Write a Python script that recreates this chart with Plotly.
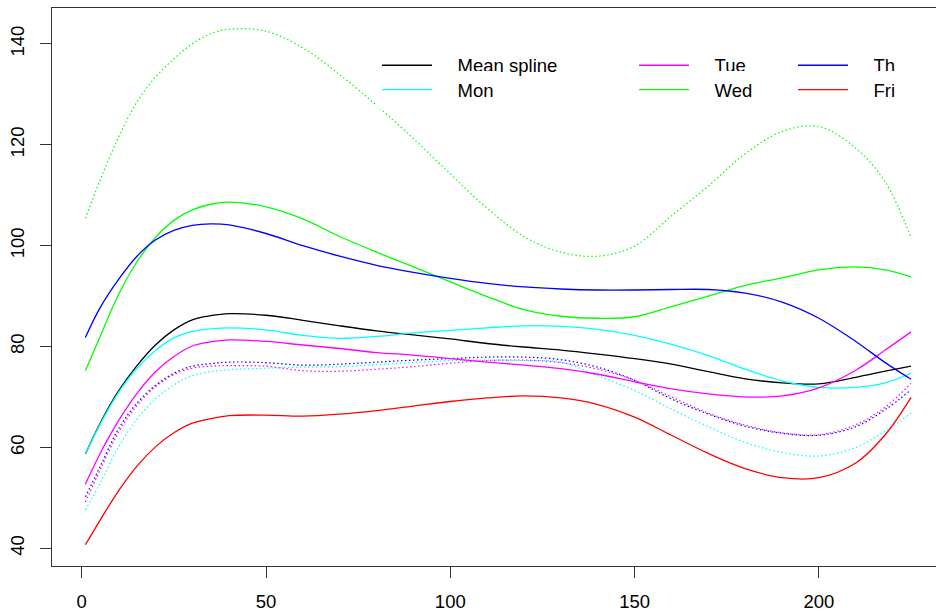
import plotly.graph_objects as go

# Evaluation points along the x axis (shared by every curve)
x = [1, 5, 10, 15, 20, 25, 30, 35, 40, 50, 60, 70, 80, 90, 100, 110, 120,
     130, 140, 150, 160, 170, 180, 190, 200, 210, 218, 225]

# Solid spline curves
mean_spline = [58.7, 64.8, 71.2, 76.2, 80.3, 83.3, 85.3, 86.1, 86.5, 86.2, 85.2, 84.1, 83.1, 82.3,
               81.5, 80.6, 79.9, 79.3, 78.5, 77.6, 76.5, 75.0, 73.6, 72.8, 72.6, 73.9, 75.1, 76.1]
mon = [58.7, 64.6, 70.9, 75.7, 79.2, 81.7, 83.0, 83.5, 83.7, 83.3, 82.2, 81.6, 82.0, 82.7,
       83.2, 83.7, 84.1, 84.0, 83.4, 82.2, 80.4, 78.2, 75.5, 73.2, 71.9, 71.9, 72.8, 74.7]
tue = [52.7, 58.8, 65.3, 70.7, 75.0, 78.0, 80.1, 80.9, 81.3, 81.0, 80.3, 79.6, 78.8, 78.3,
       77.6, 76.9, 76.3, 75.6, 74.5, 73.0, 71.6, 70.6, 70.0, 70.2, 71.8, 75.3, 79.3, 82.9]
wed = [75.2, 82.0, 90.3, 96.8, 101.6, 105.0, 107.1, 108.2, 108.6, 107.7, 105.3, 101.8, 98.7, 95.8,
       92.8, 89.9, 87.3, 86.0, 85.6, 85.9, 87.9, 90.0, 92.1, 93.6, 95.2, 95.8, 95.2, 93.8]
th = [81.8, 87.7, 93.3, 97.9, 101.1, 103.0, 104.0, 104.3, 104.1, 102.4, 100.0, 97.9, 96.1, 94.7,
      93.5, 92.5, 91.8, 91.4, 91.2, 91.2, 91.3, 91.3, 90.6, 88.8, 85.6, 81.0, 76.8, 73.5]
fri = [40.7, 45.6, 51.4, 56.3, 60.1, 62.9, 64.8, 65.7, 66.3, 66.4, 66.2, 66.6, 67.3, 68.2,
       69.1, 69.8, 70.2, 69.8, 68.5, 66.0, 62.4, 58.8, 55.8, 54.0, 54.0, 56.9, 62.5, 69.9]

# Dotted spline curves
wed_dotted = [105.4, 113.0, 121.5, 128.5, 133.4, 137.0, 140.0, 142.0, 142.9, 142.5, 139.2, 133.9,
              127.8, 121.2, 114.2, 107.4, 101.8, 98.7, 97.9, 99.9, 105.9, 111.8, 118.2, 122.6,
              123.6, 119.3, 112.6, 101.6]
th_dotted = [50.2, 56.2, 63.7, 68.8, 72.3, 74.7, 76.1, 76.6, 76.9, 76.8, 76.3, 76.5, 76.9, 77.3,
             77.6, 77.9, 77.9, 77.4, 75.9, 73.3, 69.6, 66.6, 64.2, 62.8, 62.4, 64.1, 67.5, 71.4]
tue_dotted = [49.2, 55.5, 63.0, 68.3, 72.0, 74.4, 75.7, 76.1, 76.2, 76.1, 75.2, 75.1, 75.5, 76.0,
              76.7, 77.2, 77.3, 76.8, 75.5, 73.3, 70.0, 66.8, 64.4, 62.9, 62.5, 64.5, 68.0, 72.7]
mon_dotted = [47.6, 52.9, 60.1, 65.6, 69.6, 72.4, 74.2, 75.0, 75.4, 75.7, 75.9, 76.0, 76.4, 76.8,
              77.2, 77.3, 77.2, 76.9, 74.2, 71.3, 67.6, 64.1, 61.0, 59.0, 58.3, 60.0, 63.2, 66.8]

x_ticks = [0, 50, 100, 150, 200]
y_ticks = [40, 60, 80, 100, 120, 140]

FONT = "Liberation Sans, Arial, Helvetica, sans-serif"
FS = 18.5
LW = 1.3
DOT = "1.5px,2.5px"
PAD = "\u00a0" * 4  # gap between the legend key and its label

fig = go.Figure()

# (label, values, colour, legend id, legend key left edge in px, legend row centre in px)
solid = [
    ("Mean spline", mean_spline, "black", "legend", 382, 65.7),
    ("Mon", mon, "cyan", "legend2", 382, 90.0),
    ("Tue", tue, "magenta", "legend3", 639, 65.7),
    ("Wed", wed, "#00ff00", "legend4", 639, 90.0),
    ("Th", th, "blue", "legend5", 798, 65.7),
    ("Fri", fri, "red", "legend6", 798, 90.0),
]
dotted = [
    ("Wed (dotted)", wed_dotted, "#00ff00"),
    ("Mon (dotted)", mon_dotted, "cyan"),
    ("Tue (dotted)", tue_dotted, "magenta"),
    ("Th (dotted)", th_dotted, "blue"),
]

for name, ys, col in dotted:
    fig.add_trace(go.Scatter(x=x, y=ys, mode="lines", name=name, showlegend=False,
                             line=dict(color=col, width=1.2, dash=DOT, shape="spline")))

for name, ys, col, lg, _, _ in solid:
    fig.add_trace(go.Scatter(x=x, y=ys, mode="lines", name=PAD + name, legend=lg,
                             line=dict(color=col, width=LW, shape="spline")))

W, H = 936, 613
ML, MR, MT, MB = 52, 0, 8, 47
PW, PH = W - ML - MR, H - MT - MB


def px_to_paper_x(px):
    return (px - ML) / PW


def px_to_paper_y(py):
    return (H - MB - py) / PH


legend_common = dict(
    orientation="v", xanchor="left", yanchor="top", bgcolor="white",
    borderwidth=0, font=dict(family=FONT, size=FS, color="black"),
    itemwidth=50, tracegroupgap=0, itemclick=False, itemdoubleclick=False,
)

legends = {}
for _, _, _, lg, key_left, row_y in solid:
    legends[lg] = dict(x=px_to_paper_x(key_left - 5), y=px_to_paper_y(row_y - 19),
                       **legend_common)

fig.update_layout(
    width=W, height=H,
    margin=dict(l=ML, r=MR, t=MT, b=MB, pad=0),
    paper_bgcolor="white", plot_bgcolor="white",
    font=dict(family=FONT, size=FS, color="black"),
    showlegend=True,
    **legends,
    xaxis=dict(
        range=[-8.06, 231.77], tickvals=x_ticks, ticktext=[str(v) for v in x_ticks],
        showgrid=False, zeroline=False, showline=True, mirror=True,
        linecolor="#333333", linewidth=1,
        ticks="outside", ticklen=11, tickcolor="#333333", tickwidth=1,
        ticklabelstandoff=8,
        tickfont=dict(family=FONT, size=FS, color="black"), automargin=False,
    ),
    yaxis=dict(
        range=[36.49, 147.1], tickvals=y_ticks, ticktext=[str(v) for v in y_ticks],
        showgrid=False, zeroline=False, showline=True, mirror=False,
        linecolor="#333333", linewidth=1,
        ticks="outside", ticklen=11, tickcolor="#333333", tickwidth=1, tickangle=-90,
        ticklabelstandoff=9,
        tickfont=dict(family=FONT, size=FS, color="black"), automargin=False,
    ),
)

fig.write_html("out.html")
